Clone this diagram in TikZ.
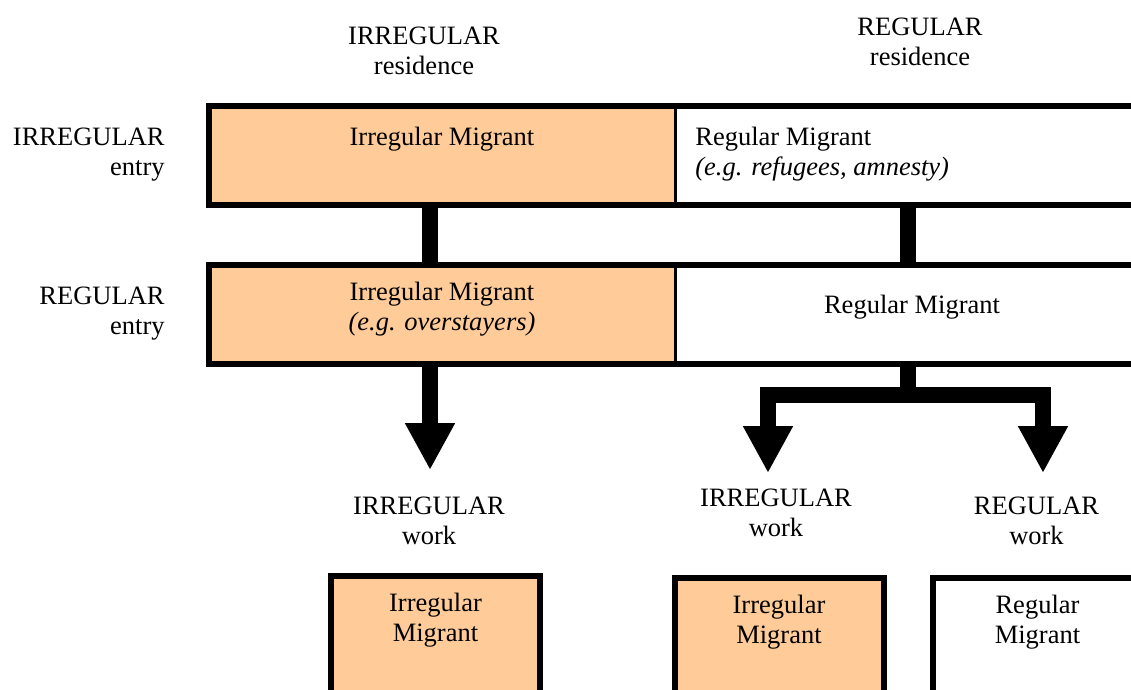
\documentclass[tikz,border=0pt]{standalone}
\usepackage{fontspec}
\setmainfont{Liberation Serif}
\usepackage{xcolor}
\usepackage{tikz}
\usetikzlibrary{arrows.meta,positioning}
\definecolor{migorange}{RGB}{255,204,153}

\begin{document}
\begin{tikzpicture}[
  x=0.5pt, y=-0.5pt,
  font=\fontsize{13.25}{15}\selectfont,
  cell/.style={draw, line width=1.5pt, minimum width=233pt, minimum height=49.5pt, inner sep=0pt, outer sep=0pt},
  irrcell/.style={cell, fill=migorange},
  regcell/.style={cell, fill=white},
  frame/.style={line width=3pt},
  heading/.style={align=center, inner sep=0pt, anchor=north},
  rowhead/.style={align=right, inner sep=0pt, anchor=north east},
  celltext/.style={align=center, inner sep=0pt},
  workbox/.style={draw, line width=3pt, minimum width=104.5pt, minimum height=80pt, inner sep=0pt, outer sep=0pt, anchor=north},
  bar/.style={line width=8pt},
  fatarrow/.style={bar, -{Triangle[width=23.5pt,length=23.5pt]}},
  line join=miter
]
\useasboundingbox (0,0) rectangle (1131,690);
\clip (0,0) rectangle (1131,690);

% Headings
\node[heading] (irres) at (424,27) {IRREGULAR\\residence};
\node[heading] (regres) at (920,18) {REGULAR\\residence};
\node[rowhead] (irent) at (165,128) {IRREGULAR\\entry};
\node[rowhead] (regent) at (165,287) {REGULAR\\entry};

% Entry / residence grid
\node[irrcell] (ii) at (442,156) {};
\node[regcell] (ir) at (908,156) {};
\node[irrcell] (ri) at (442,314) {};
\node[regcell] (rr) at (908,314) {};
\draw[frame] (ii.north west) rectangle (ir.south east);
\draw[frame] (ri.north west) rectangle (rr.south east);

\node[celltext, below=10pt of ii.north] {Irregular Migrant};
\node[celltext, anchor=north west, align=left] at ([xshift=10pt,yshift=-10pt]ir.north west) {Regular Migrant\\\textit{(e.g. refugees, amnesty)}};
\node[celltext, below=8.75pt of ri.north] {Irregular Migrant\\\textit{(e.g. overstayers)}};
\node[celltext, below=15.25pt of rr.north, xshift=2pt] {Regular Migrant};

% Work status
\node[heading] (irrwork) at (429,497) {IRREGULAR\\work};
\node[heading] (irrworkb) at (776,489) {IRREGULAR\\work};
\node[heading] (regwork) at (1036.5,497) {REGULAR\\work};

\node[workbox, fill=migorange] (irrmig) at (435.5,576) {};
\node[workbox, fill=migorange] (irrmigb) at (779,577.5) {};
\node[workbox, fill=white] (regmig) at (1037.5,577.5) {};
\node[celltext, below=8.5pt of irrmig.north] {Irregular\\Migrant};
\node[celltext, below=8.5pt of irrmigb.north] {Irregular\\Migrant};
\node[celltext, below=8.5pt of regmig.north] {Regular\\Migrant};

% Connectors
\draw[bar] ([xshift=-6pt]ii.south) -- ([xshift=-6pt]ri.north);
\draw[bar] (ir.south) -- (rr.north);
\draw[fatarrow, shorten >=13.5pt] ([xshift=-6pt]ri.south) -- ([xshift=-6pt]ri.south |- irrwork.north);
\coordinate (split) at ([yshift=-15.75pt]rr.south);
\draw[bar] (rr.south) -- (split);
\draw[fatarrow, shorten >=8pt] (split) -| ([xshift=-4pt]irrworkb.north);
\draw[fatarrow, shorten >=12pt] (split) -| ([xshift=3.25pt]regwork.north);

\end{tikzpicture}
\end{document}
